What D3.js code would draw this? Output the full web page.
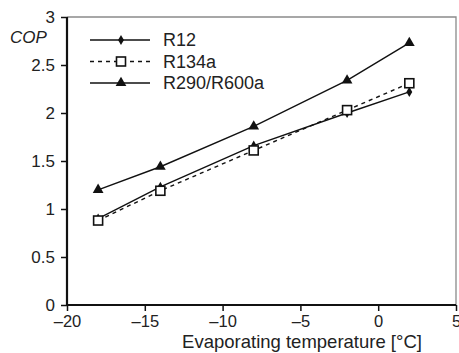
<!DOCTYPE html>
<html>
<head>
<meta charset="utf-8">
<script src="https://cdnjs.cloudflare.com/ajax/libs/d3/7.8.5/d3.min.js"></script>
<style>
  body { margin: 0; background: #fff; }
  svg { display: block; font-family: "Liberation Sans", Arial, sans-serif; }
</style>
</head>
<body>
<div id="main"></div>
<script>
// data
var temps = [-18, -14, -8, -2, 2];
var copR12 = [0.9, 1.23, 1.66, 2.0, 2.22];
var copR134a = [0.88, 1.19, 1.61, 2.03, 2.31];
var copR290 = [1.2, 1.44, 1.86, 2.34, 2.73];
var xTicks = [-20, -15, -10, -5, 0, 5];
var yTicks = [0, 0.5, 1, 1.5, 2, 2.5, 3];
var seriesNames = ["R12", "R134a", "R290/R600a"];

var ctx = {
    w: 459,
    h: 353,
    left: 67,
    right: 456,
    top: 17,
    bottom: 305,
};

var svgEl = d3.select("#main").append("svg")
    .attr("width", ctx.w)
    .attr("height", ctx.h);

var x = d3.scaleLinear().domain([-20, 5]).range([ctx.left, ctx.right]);
var y = d3.scaleLinear().domain([0, 3]).range([ctx.bottom, ctx.top]);

// grey frame on top and right
svgEl.append("path")
    .attr("d", "M" + x(-20) + "," + y(3) + "H" + x(5) + "V" + y(0))
    .attr("fill", "none")
    .attr("stroke", "#8a8a8a")
    .attr("stroke-width", 1.3);

var fmt = function(d){ return d < 0 ? "\u2013" + Math.abs(d) : "" + d; };

var xAxis = svgEl.append("g")
    .attr("transform", "translate(0," + ctx.bottom + ")")
    .call(d3.axisBottom(x).tickValues(xTicks).tickFormat(fmt).tickSize(6).tickSizeOuter(0));
var yAxis = svgEl.append("g")
    .attr("transform", "translate(" + ctx.left + ",0)")
    .call(d3.axisLeft(y).tickValues(yTicks).tickFormat(d3.format("")).tickSize(6).tickSizeOuter(0));

[xAxis, yAxis].forEach(function(a){
    a.select(".domain").attr("stroke", "#111").attr("stroke-width", 2.2);
    a.selectAll(".tick line").attr("stroke", "#111").attr("stroke-width", 1.5);
    a.selectAll(".tick text").attr("fill", "#222").style("font-size", "17px")
        .style("font-family", "Liberation Sans, Arial, sans-serif");
});
xAxis.selectAll(".tick text").style("font-size", "16.5px").attr("y", 7).attr("dy", "0.9em");
yAxis.selectAll(".tick text").attr("x", -12);
// extend domain lines to meet at the corner
xAxis.select(".domain").attr("d", "M" + (ctx.left - 1) + ",0H" + ctx.right);
yAxis.select(".domain").attr("d", "M0," + ctx.top + "V" + (ctx.bottom + 1));

svgEl.append("text")
    .attr("x", 10).attr("y", 43)
    .style("font-size", "17px").style("font-style", "italic")
    .attr("fill", "#222")
    .text("COP");

svgEl.append("text")
    .attr("x", 302).attr("y", 348)
    .attr("text-anchor", "middle")
    .style("font-size", "18.5px")
    .attr("fill", "#222")
    .text("Evaporating temperature [\u00B0C]");

var line = d3.line().x(function(d){ return x(d[0]); }).y(function(d){ return y(d[1]); });

var series = [
    {name: seriesNames[0], values: copR12, dash: null, marker: "diamond"},
    {name: seriesNames[1], values: copR134a, dash: "4,4", marker: "square"},
    {name: seriesNames[2], values: copR290, dash: null, marker: "triangle"},
];

var drawMarker = function(g, kind, cx, cy){
    if (kind == "diamond"){
        g.append("path").attr("d", d3.symbol(d3.symbolDiamond, 30)())
            .attr("transform", "translate(" + cx + "," + cy + ")")
            .attr("fill", "#111");
    } else if (kind == "square"){
        g.append("rect").attr("x", cx - 4.5).attr("y", cy - 4.5)
            .attr("width", 9).attr("height", 9)
            .attr("fill", "#fff").attr("stroke", "#111").attr("stroke-width", 1.6);
    } else {
        g.append("path").attr("d", d3.symbol(d3.symbolTriangle, 50)())
            .attr("transform", "translate(" + cx + "," + cy + ")")
            .attr("fill", "#111");
    }
};

series.forEach(function(s){
    var pts = temps.map(function(t, i){ return [t, s.values[i]]; });
    var g = svgEl.append("g");
    g.append("path").attr("d", line(pts))
        .attr("fill", "none")
        .attr("stroke", "#111")
        .attr("stroke-width", 1.4)
        .attr("stroke-dasharray", s.dash);
    pts.forEach(function(p){ drawMarker(g, s.marker, x(p[0]), y(p[1])); });
});

// legend
var legY = d3.scaleLinear().domain([0, 2]).range([40, 83]);
series.forEach(function(s, i){
    var g = svgEl.append("g");
    g.append("line")
        .attr("x1", 90).attr("x2", 150)
        .attr("y1", legY(i)).attr("y2", legY(i))
        .attr("stroke", "#111").attr("stroke-width", 1.6)
        .attr("stroke-dasharray", s.dash);
    drawMarker(g, s.marker, 121, legY(i));
    g.append("text")
        .attr("x", 163).attr("y", legY(i) + 6)
        .style("font-size", "18px")
        .attr("fill", "#222")
        .text(s.name);
});
</script>
</body>
</html>
